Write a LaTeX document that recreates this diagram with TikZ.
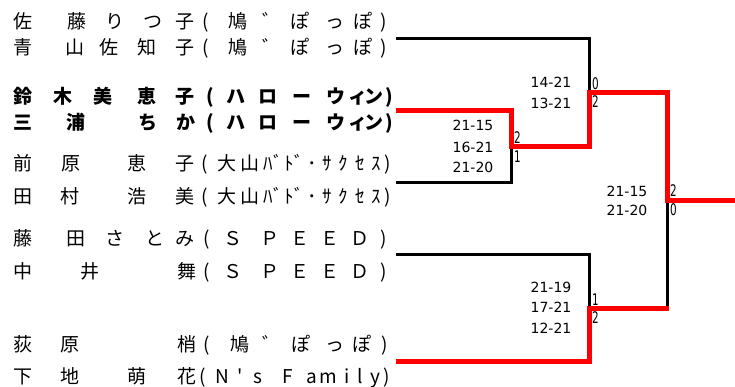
\documentclass[tikz,border=0pt]{standalone}
\usepackage{fontspec}
\newfontfamily\jpfont{Noto Sans CJK JP}
\newfontfamily\scorefont{DejaVu Sans}
\newfontfamily\markfont[FakeStretch=0.65]{DejaVu Sans}
\newcommand\chrow[1]{\makebox[390pt][l]{\foreach \px/\ch in {#1}{\rlap{\hspace*{\px pt}\makebox[0pt]{\ch}}}}}
\tikzset{
  namerow/.style={anchor=west, inner sep=0pt, text height=16.7pt, text depth=2.3pt,
    font=\jpfont\fontsize{19}{19}\selectfont},
  boldrow/.style={namerow, font=\jpfont\bfseries\fontsize{19}{19}\selectfont},
  score/.style={inner sep=0pt, font=\scorefont\fontsize{14}{14}\selectfont},
  marklbl/.style={anchor=west, inner sep=0pt, font=\markfont\fontsize{16}{16}\selectfont},
  blk/.style={line width=3pt, black},
  win/.style={line width=5pt, red},
}
\begin{document}
\begin{tikzpicture}[x=1pt, y=-1pt]
\useasboundingbox (0,0) rectangle (735,387);
% player rows
\node[namerow] (r1) at (0,21) {\chrow{23/佐,77/藤,115/り,153/つ,185/子,206/(,238/鳩,272/゛,300/ぽ,335/っ,363/ぽ,384/)}};
\node[namerow] (r2) at (0,47) {\chrow{23/青,75/山,109/佐,147/知,185/子,206/(,238/鳩,272/゛,300/ぽ,335/っ,363/ぽ,384/)}};
\node[boldrow] (r3) at (0,96) {\chrow{23/鈴,63/木,103/美,147/恵,185/子,210/(,236/ハ,268/ロ,302/ー,336/ウ,358/ィ,374/ン,389/)}};
\node[boldrow] (r4) at (0,122) {\chrow{23/三,76/浦,148/ち,186/か,210/(,236/ハ,268/ロ,302/ー,336/ウ,358/ィ,374/ン,389/)}};
\node[namerow] (r5) at (0,163) {\chrow{23/前,71/原,137/恵,185/子,205/(,227/大,250/山,273/ﾊﾞ,294/ﾄﾞ,312/･,327/ｻ,343/ｸ,360/ｾ,376/ｽ,388/)}};
\node[namerow] (r6) at (0,196) {\chrow{23/田,70/村,137/浩,185/美,205/(,227/大,250/山,273/ﾊﾞ,294/ﾄﾞ,312/･,327/ｻ,343/ｸ,360/ｾ,376/ｽ,388/)}};
\node[namerow] (r7) at (0,238) {\chrow{23/藤,76/田,115/さ,155/と,185/み,207/(,233/Ｓ,270/Ｐ,300/Ｅ,330/Ｅ,360/Ｄ,384/)}};
\node[namerow] (r8) at (0,271) {\chrow{23/中,90/井,187/舞,207/(,233/Ｓ,270/Ｐ,300/Ｅ,330/Ｅ,360/Ｄ,384/)}};
\node[namerow] (r9) at (0,344) {\chrow{23/荻,70/原,187/梢,207/(,240/鳩,272/゛,301/ぽ,335/っ,362/ぽ,385/)}};
\node[namerow] (r10) at (0,376) {\chrow{23/下,70/地,137/萌,187/花,203/(,222/N,240/',258/s,288/F,312/a,328/m,347/i,360/l,375/y,387/)}};
% bracket points
\coordinate (pA) at (396,39);
\coordinate (pB) at (396,110.5);
\coordinate (pC) at (396,183);
\coordinate (pD) at (396,254);
\coordinate (pE) at (396,361);
\coordinate (j1) at (511.5,146.5);
\coordinate (j2) at (589,93);
\coordinate (j3) at (589,308.5);
\coordinate (j4) at (667,200.5);
\coordinate (out) at (735,200.5);
% losers
\draw[blk] (pA) -| (j2);
\draw[blk] (pC) -| (j1);
\draw[blk] (pD) -| (j3);
\draw[blk] (j3 -| j4) -- (j4);
% winners
\draw[win] (pB) -| (j1) -| (j2) -| (j4) -- (out);
\draw[win] (pE) -| (j3) -- ([xshift=1.5pt]j3 -| j4);
% scores
\node[score] (s1a) at (551,82) {14-21};
\node[score] (s1b) at (551,103) {13-21};
\node[score] (s2a) at (473,125) {21-15};
\node[score] (s2b) at (473,147) {16-21};
\node[score] (s2c) at (473,167) {21-20};
\node[score] (s3a) at (551,287) {21-19};
\node[score] (s3b) at (551,307) {17-21};
\node[score] (s3c) at (551,328) {12-21};
\node[score] (s4a) at (627,191) {21-15};
\node[score] (s4b) at (627,210) {21-20};
% game counts
\node[marklbl] (m1a) at (592,84) {0};
\node[marklbl] (m1b) at (592,102) {2};
\node[marklbl] (m2a) at (514,138) {2};
\node[marklbl] (m2b) at (514,157) {1};
\node[marklbl] (m3a) at (592,300) {1};
\node[marklbl] (m3b) at (592,318) {2};
\node[marklbl] (m4a) at (670,191) {2};
\node[marklbl] (m4b) at (670,210) {0};
\end{tikzpicture}
\end{document}
